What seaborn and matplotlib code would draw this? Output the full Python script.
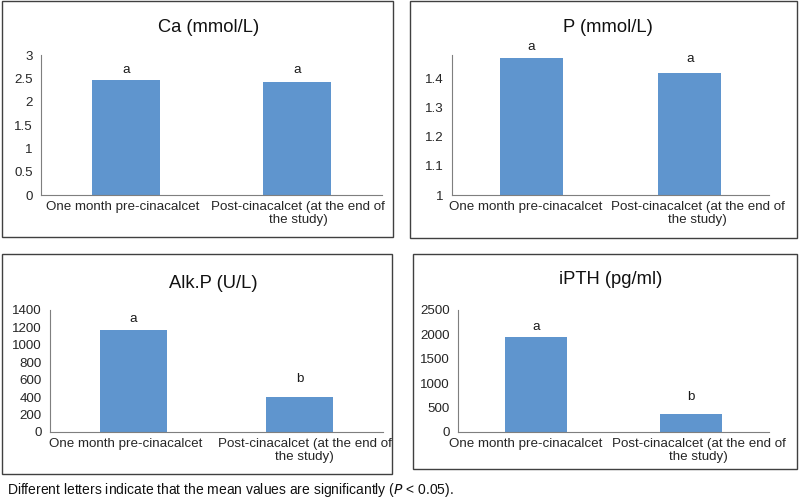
import matplotlib
matplotlib.use('Agg')
import matplotlib.pyplot as plt
import matplotlib.transforms as mtransforms
import seaborn as sns
from matplotlib.patches import Rectangle

sns.set_style('white')
plt.rcParams['font.family'] = ['Liberation Sans', 'DejaVu Sans']

# Data
categories = ['One month pre-cinacalcet', 'Post-cinacalcet (at the end of\nthe study)']
titles = ['Ca (mmol/L)', 'P (mmol/L)', 'Alk.P (U/L)', 'iPTH (pg/ml)']
ca_values = [2.46, 2.42]
p_values = [1.471, 1.42]
alkp_values = [1175, 400]
ipth_values = [1950, 365]
ca_letters = ['a', 'a']
p_letters = ['a', 'a']
alkp_letters = ['a', 'b']
ipth_letters = ['a', 'b']

ca_ticks = [0, 0.5, 1, 1.5, 2, 2.5, 3]
ca_ticklabels = ['0', '0.5', '1', '1.5', '2', '2.5', '3']
p_ticks = [1, 1.1, 1.2, 1.3, 1.4]
p_ticklabels = ['1', '1.1', '1.2', '1.3', '1.4']
alkp_ticks = [0, 200, 400, 600, 800, 1000, 1200, 1400]
ipth_ticks = [0, 500, 1000, 1500, 2000, 2500]

bar_color = '#5F95CE'
edge_grey = '#404040'
axis_grey = '#7f7f7f'
fs = 9.6

fig = plt.figure(figsize=(8, 4.99), dpi=100)
W, H = 800, 499

def px_axes(x0, y0, x1, y1):
    # pixel box (top-left origin) -> figure axes
    return fig.add_axes([x0 / W, 1 - y1 / H, (x1 - x0) / W, (y1 - y0) / H])

def px_box(x0, y0, x1, y1):
    fig.add_artist(Rectangle((x0 / W, 1 - y1 / H), (x1 - x0) / W, (y1 - y0) / H,
                             transform=fig.transFigure, fill=False,
                             edgecolor=edge_grey, linewidth=1.0))

panels = [
    # box, axes, values, letters, ylim, ticks, ticklabels, title y, letter gaps (px), label nudges (px)
    ((2, 1, 393, 237), (41, 55, 382, 195), ca_values, ca_letters, (0, 3),
     ca_ticks, ca_ticklabels, 27, (7, 9), (-4, 1.5)),
    ((410, 1, 797, 238), (452, 55, 769, 195), p_values, p_letters, (1, 1.48),
     p_ticks, p_ticklabels, 27, (8, 11), (-6, 8)),
    ((2, 254, 392, 474), (50, 310, 383, 432), alkp_values, alkp_letters, (0, 1400),
     alkp_ticks, [str(t) for t in alkp_ticks], 283, (8, 15), (-7.5, 5)),
    ((413, 254, 797, 469), (458, 310, 769, 432), ipth_values, ipth_letters, (0, 2500),
     ipth_ticks, [str(t) for t in ipth_ticks], 279, (7, 14), (-10, 7.5)),
]

for i, (box, ax_px, vals, letters, ylim, ticks, tlabels, title_y, gaps, nudges) in enumerate(panels):
    px_box(*box)
    ax = px_axes(*ax_px)
    sns.barplot(x=categories, y=vals, ax=ax, color=bar_color, width=0.4,
                saturation=1, edgecolor='none')
    ax.set_ylim(*ylim)
    ax.set_xlim(-0.5, 1.5)
    ax.set_yticks(ticks)
    ax.set_yticklabels(tlabels)
    ax.tick_params(axis='y', length=4, width=0.8, color=axis_grey, labelsize=fs, pad=2)
    ax.tick_params(axis='x', which='major', length=0, labelsize=fs, pad=4)
    ax.set_xticks([-0.5, 0.5, 1.5], minor=True)
    ax.tick_params(axis='x', which='minor', length=4, width=0.8, color=axis_grey)
    # Excel pushes the long category labels apart a little
    for lab, dx in zip(ax.get_xticklabels(), nudges):
        shift = mtransforms.ScaledTranslation(dx / 100, 0, fig.dpi_scale_trans)
        lab.set_transform(lab.get_transform() + shift)
    for s in ['top', 'right']:
        ax.spines[s].set_visible(False)
    for s in ['left', 'bottom']:
        ax.spines[s].set_color(axis_grey)
        ax.spines[s].set_linewidth(0.8)
    ax.set_xlabel('')
    ax.set_ylabel('')
    for j, (v, lt, g) in enumerate(zip(vals, letters, gaps)):
        ax.annotate(lt, (j, v), xytext=(0, g), textcoords='offset pixels',
                    ha='center', va='baseline', fontsize=fs, color='#1a1a1a',
                    annotation_clip=False)
    fig.text(((ax_px[0] + ax_px[2]) / 2 - 3) / W, 1 - title_y / H, titles[i],
             ha='center', va='center', fontsize=13.2, color='#111111')

fig.text(7 / W, 1 - 490 / H,
         r'Different letters indicate that the mean values are significantly ($\it{P}$ < 0.05).',
         ha='left', va='center', fontsize=10, color='#111111')

fig.savefig('out.png', dpi=100)
